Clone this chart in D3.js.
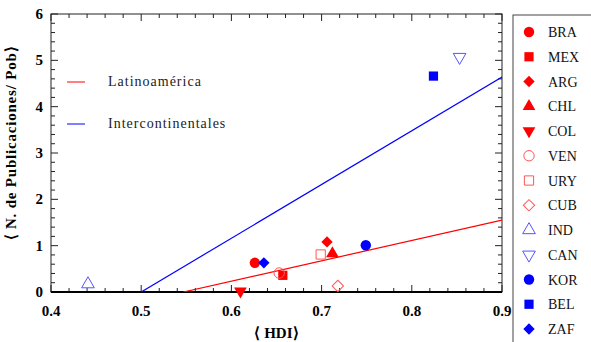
<!DOCTYPE html>
<html>
<head>
<meta charset="utf-8">
<script src="https://cdn.jsdelivr.net/npm/d3@7"></script>
<style>
  body { margin: 0; background: #fff; }
  svg { display: block; }
  .tick-label { font-family: "Liberation Serif", "Times New Roman", Times, serif; font-weight: bold; font-size: 15px; }
  .axis-title { font-family: "Liberation Serif", "Times New Roman", Times, serif; font-weight: bold; font-size: 15px; }
  .leg-text { font-family: "Liberation Serif", "Times New Roman", Times, serif; font-size: 14px; }
</style>
</head>
<body>
<div id="chart"></div>
<script>
// country codes, HDI and publications per population
const countries = ['BRA', 'MEX', 'ARG', 'CHL', 'COL', 'VEN', 'URY', 'CUB', 'IND', 'CAN', 'KOR', 'BEL', 'ZAF'];
const hdi =       [0.626, 0.657, 0.706, 0.712, 0.610, 0.653, 0.699, 0.718, 0.441, 0.853, 0.749, 0.824, 0.636];
const pubs =      [0.63,  0.36,  1.08,  0.83,  0.02,  0.41,  0.81,  0.13,  0.17,  5.07,  1.01,  4.66,  0.63];
const shapes =    ['circle', 'square', 'diamond', 'triangle', 'down', 'circle', 'square', 'diamond', 'triangle', 'down', 'circle', 'square', 'diamond'];
const filled =    [true, true, true, true, true, false, false, false, false, false, true, true, true];
const groups =    ['lat', 'lat', 'lat', 'lat', 'lat', 'lat', 'lat', 'lat', 'int', 'int', 'int', 'int', 'int'];

// linear fits: y = slope * x + intercept
const fitNames = ['Latinoamérica', 'Intercontinentales'];
const fitSlope = [4.39, 11.6];
const fitIntercept = [-2.40, -5.80];
const fitGroup = ['lat', 'int'];

const xTicks = [0.4, 0.5, 0.6, 0.7, 0.8, 0.9];
const yTicks = [0, 1, 2, 3, 4, 5, 6];

const colors = { lat: '#ff0000', int: '#0000ff' };
const openColors = { lat: '#ff5555', int: '#5555ff' };

const width = 591, height = 342;
const margin = {top: 14, right: 89, bottom: 50, left: 51};
const w = width - margin.left - margin.right;
const h = height - margin.top - margin.bottom;

const svg = d3.select('#chart').append('svg')
    .attr('width', width)
    .attr('height', height);

const g = svg.append('g')
    .attr('transform', 'translate(' + margin.left + ',' + margin.top + ')');

const x = d3.scaleLinear().domain([0.4, 0.9]).range([0, w]);
const y = d3.scaleLinear().domain([0, 6]).range([h, 0]);

g.append('defs').append('clipPath').attr('id', 'clip')
    .append('rect').attr('width', w).attr('height', h);

// frame
g.append('rect')
    .attr('width', w).attr('height', h)
    .attr('fill', 'none').attr('stroke', '#222').attr('stroke-width', 1);

// ticks (inward, all four sides)
const xMinor = d3.range(0.4, 0.9001, 0.02);
const yMinor = d3.range(0, 6.0001, 0.2);
const tickG = g.append('g').attr('stroke', '#222').attr('stroke-width', 1);
xMinor.forEach(v => {
    const major = xTicks.some(t => Math.abs(t - v) < 1e-6);
    const len = major ? 7 : 4;
    tickG.append('line').attr('x1', x(v)).attr('x2', x(v)).attr('y1', h).attr('y2', h - len);
    tickG.append('line').attr('x1', x(v)).attr('x2', x(v)).attr('y1', 0).attr('y2', len);
});
yMinor.forEach(v => {
    const major = yTicks.some(t => Math.abs(t - v) < 1e-6);
    const len = major ? 7 : 4;
    tickG.append('line').attr('y1', y(v)).attr('y2', y(v)).attr('x1', 0).attr('x2', len);
    tickG.append('line').attr('y1', y(v)).attr('y2', y(v)).attr('x1', w).attr('x2', w - len);
});
// heavier bottom axis line
g.append('line').attr('x1', 0).attr('x2', w).attr('y1', h).attr('y2', h)
    .attr('stroke', '#000').attr('stroke-width', 2);

g.selectAll('.xl').data(xTicks).enter().append('text')
    .attr('class', 'tick-label')
    .attr('x', d => x(d)).attr('y', h + 24)
    .attr('text-anchor', 'middle')
    .text(d => d3.format('.1f')(d));

g.selectAll('.yl').data(yTicks).enter().append('text')
    .attr('class', 'tick-label')
    .attr('x', -8).attr('y', d => y(d) + 5)
    .attr('text-anchor', 'end')
    .text(d => d);

// axis titles
g.append('text').attr('class', 'axis-title')
    .attr('x', w / 2).attr('y', h + 46)
    .attr('text-anchor', 'middle')
    .text('⟨ HDI⟩');
g.append('text').attr('class', 'axis-title')
    .attr('transform', 'translate(-35,' + (h / 2 - 10) + ') rotate(-90)')
    .attr('text-anchor', 'middle')
    .attr('letter-spacing', '0.8px')
    .text('⟨ N. de Publicaciones/ Pob⟩');

// fit lines
const fits = fitNames.map((n, i) => {
    const x0 = Math.max(0.4, -fitIntercept[i] / fitSlope[i]);
    return [[x0, fitSlope[i] * x0 + fitIntercept[i]], [0.9, fitSlope[i] * 0.9 + fitIntercept[i]]];
});
const line = d3.line().x(d => x(d[0])).y(d => y(d[1]));
g.append('g').attr('clip-path', 'url(#clip)')
    .selectAll('path').data(fits).enter().append('path')
    .attr('d', line)
    .attr('fill', 'none')
    .attr('stroke', (d, i) => colors[fitGroup[i]])
    .attr('stroke-width', 1.2);

// inner legend for fits
fitNames.forEach((n, i) => {
    const ly = 68 + i * 42;
    g.append('line')
        .attr('x1', 16).attr('x2', 34).attr('y1', ly).attr('y2', ly)
        .attr('stroke', colors[fitGroup[i]]).attr('stroke-width', 1);
    g.append('text').attr('class', 'leg-text')
        .attr('x', 57).attr('y', ly + 4)
        .attr('letter-spacing', '1px')
        .attr('fill', '#222')
        .text(n);
});

function symbolPath(shape, size) {
    const types = {circle: d3.symbolCircle, square: d3.symbolSquare, diamond: d3.symbolSquare,
                   triangle: d3.symbolTriangle, down: d3.symbolTriangle};
    return d3.symbol().type(types[shape]).size(size)();
}
function drawMarker(sel, i, cx, cy) {
    const open = !filled[i];
    const s = shapes[i];
    const size = s === 'triangle' || s === 'down' ? 70 : (s === 'diamond' ? 64 : 85);
    const rot = s === 'down' ? ' rotate(180)' : (s === 'diamond' ? ' rotate(45)' : '');
    sel.append('path')
        .attr('d', symbolPath(s, size))
        .attr('transform', 'translate(' + cx + ',' + cy + ')' + rot)
        .attr('fill', open ? 'none' : colors[groups[i]])
        .attr('stroke', open ? openColors[groups[i]] : 'none')
        .attr('stroke-width', 1);
}

// points
const pts = g.append('g');
countries.forEach((c, i) => drawMarker(pts, i, x(hdi[i]), y(pubs[i])));

// side legend
const leg = svg.append('g').attr('transform', 'translate(513,15)');
leg.append('rect').attr('width', 100).attr('height', 340)
    .attr('fill', 'none').attr('stroke', '#444').attr('stroke-width', 1);
countries.forEach((c, i) => {
    const ly = 17 + i * 24.75;
    drawMarker(leg, i, 16, ly);
    leg.append('text').attr('class', 'leg-text')
        .attr('x', 35).attr('y', ly + 5)
        .attr('fill', '#111')
        .text(c);
});
</script>
</body>
</html>
